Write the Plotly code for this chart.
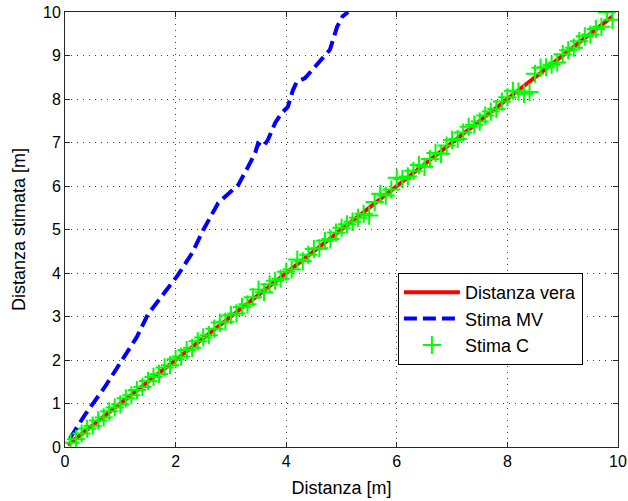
import plotly.graph_objects as go

# True distance (red line)
true_x = [0.05, 1.0, 2.0, 3.0, 4.0, 5.0, 6.0, 7.0, 8.0, 9.0, 9.9]
true_y = [0.05, 1.0, 2.0, 3.0, 4.0, 5.0, 6.0, 7.0, 8.0, 9.0, 9.9]

# Stima MV (blue dashed)
mv_x = [0.09, 0.36, 0.72, 1.03, 1.30, 1.50, 1.84, 2.04, 2.30, 2.50, 2.77, 2.89,
        3.13, 3.31, 3.44, 3.49, 3.58, 3.67, 3.80, 3.92, 4.03, 4.12, 4.19, 4.34,
        4.58, 4.79, 4.92, 5.02, 5.12]
mv_y = [0.20, 0.74, 1.38, 2.00, 2.53, 3.05, 3.60, 3.95, 4.46, 4.99, 5.61, 5.75,
        6.02, 6.44, 6.76, 6.98, 6.90, 7.06, 7.45, 7.68, 7.82, 8.20, 8.39, 8.48,
        8.83, 9.13, 9.66, 9.90, 10.0]

# Stima C (green crosses)
c_x = [0.1, 0.2, 0.3, 0.4, 0.5, 0.6, 0.7, 0.8, 0.9, 1.0,
       1.1, 1.2, 1.3, 1.4, 1.5, 1.6, 1.7, 1.8, 1.9, 2.0,
       2.1, 2.2, 2.3, 2.4, 2.5, 2.6, 2.7, 2.8, 2.9, 3.0,
       3.1, 3.2, 3.3, 3.4, 3.5, 3.6, 3.7, 3.8, 3.9, 4.0,
       4.1, 4.2, 4.3, 4.4, 4.5, 4.6, 4.7, 4.8, 4.9, 5.0,
       5.1, 5.2, 5.3, 5.4, 5.5, 5.6, 5.7, 5.8, 5.9, 6.0,
       6.1, 6.2, 6.3, 6.4, 6.5, 6.6, 6.7, 6.8, 6.9, 7.0,
       7.1, 7.2, 7.3, 7.4, 7.5, 7.6, 7.7, 7.8, 7.9, 8.0,
       8.1, 8.2, 8.3, 8.4, 8.5, 8.6, 8.7, 8.8, 8.9, 9.0,
       9.1, 9.2, 9.3, 9.4, 9.5, 9.6, 9.7, 9.8, 9.9]
c_y = [0.10, 0.18, 0.31, 0.42, 0.49, 0.61, 0.68, 0.82, 0.91, 0.98,
       1.12, 1.19, 1.31, 1.38, 1.52, 1.61, 1.68, 1.83, 1.88, 2.02,
       2.08, 2.23, 2.28, 2.43, 2.52, 2.57, 2.72, 2.86, 2.88, 3.03,
       3.07, 3.22, 3.28, 3.44, 3.62, 3.56, 3.74, 3.82, 3.87, 4.03,
       4.08, 4.31, 4.27, 4.42, 4.55, 4.57, 4.74, 4.78, 4.93, 5.04,
       5.12, 5.18, 5.27, 5.36, 5.32, 5.63, 5.82, 5.78, 5.92, 6.19,
       6.16, 6.22, 6.35, 6.48, 6.44, 6.62, 6.76, 6.74, 6.93, 7.06,
       7.08, 7.23, 7.36, 7.41, 7.48, 7.62, 7.71, 7.77, 7.94, 8.04,
       8.19, 8.17, 8.12, 8.16, 8.58, 8.72, 8.73, 8.79, 8.84, 9.03,
       9.12, 9.18, 9.33, 9.44, 9.48, 9.61, 9.66, 10.00, 9.82]

x_ticks = [0, 2, 4, 6, 8, 10]
y_ticks = [0, 1, 2, 3, 4, 5, 6, 7, 8, 9, 10]

FONT = "Liberation Sans, Arial, sans-serif"

fig = go.Figure()
fig.add_trace(go.Scatter(x=true_x, y=true_y, mode="lines", name="Distanza vera",
                         line=dict(color="#ff0000", width=4)))
fig.add_trace(go.Scatter(x=mv_x, y=mv_y, mode="lines", name="Stima MV",
                         line=dict(color="#0000ff", width=4, dash="13px,6px")))
fig.add_trace(go.Scatter(x=c_x, y=c_y, mode="markers", name="Stima C",
                         marker=dict(symbol="cross-thin", size=13, color="#00ff00",
                                     line=dict(color="#00ff00", width=2))))

axis_common = dict(
    showline=True, linecolor="#262626", linewidth=1, mirror="allticks",
    ticks="inside", ticklen=5, tickcolor="#262626",
    showgrid=True, gridcolor="#404040", gridwidth=1, griddash="1px,5px",
    zeroline=False, tickfont=dict(family=FONT, size=16, color="#000000"),
    automargin=False,
)

fig.update_layout(
    width=628, height=501,
    margin=dict(l=65, r=10, t=12, b=54),
    paper_bgcolor="white", plot_bgcolor="white",
    font=dict(family=FONT, size=16, color="#000000"),
    xaxis=dict(range=[0, 10], tickvals=x_ticks, ticktext=[str(v) for v in x_ticks],
               title=dict(text="Distanza [m]", font=dict(family=FONT, size=18), standoff=12),
               **axis_common),
    yaxis=dict(range=[0, 10], tickvals=y_ticks, ticktext=[str(v) for v in y_ticks],
               title=dict(text="Distanza stimata [m]", font=dict(family=FONT, size=18), standoff=12),
               **axis_common),
    legend=dict(x=0.602, y=0.40, xanchor="left", yanchor="top",
                bgcolor="white", bordercolor="#000000", borderwidth=1,
                font=dict(family=FONT, size=18, color="#000000"),
                tracegroupgap=0, itemwidth=56),
    showlegend=True,
)

fig.write_html("out.html")
